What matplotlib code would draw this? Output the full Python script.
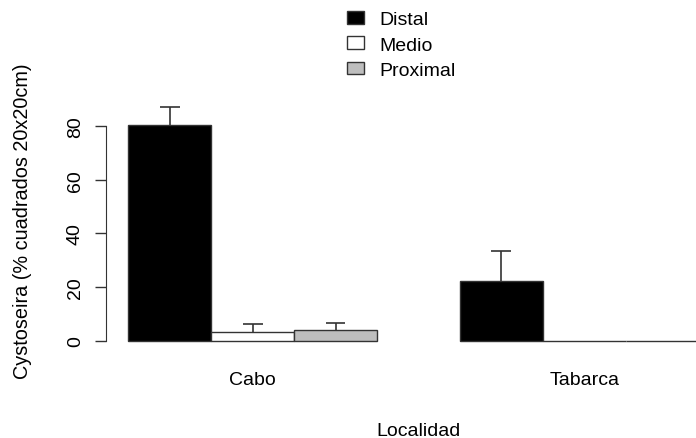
import numpy as np
import matplotlib
matplotlib.use("Agg")
import matplotlib.pyplot as plt
from matplotlib.patches import Patch

plt.rcParams['font.family'] = ['Liberation Sans', 'DejaVu Sans']

# datos
localidades = ["Cabo", "Tabarca"]
niveles = ["Distal", "Medio", "Proximal"]
colores = ["black", "white", "#bebebe"]
medias = {"Distal": [80.5, 22.2], "Medio": [3.5, 0.0], "Proximal": [4.0, 0.0]}
errores = {"Distal": [6.6, 11.4], "Medio": [2.8, 0.0], "Proximal": [2.8, 0.0]}

fig = plt.figure(figsize=(6.96, 4.39), dpi=100)
ax = fig.add_axes([106/696, 0.199, 1 - 106/696, 0.573])

# barras juntas dentro de cada grupo, un hueco de una barra entre grupos
paso = len(niveles) + 1
cap = 0.12
for j, (niv, col) in enumerate(zip(niveles, colores)):
    x = np.arange(len(localidades)) * paso + j
    m = np.array(medias[niv])
    e = np.array(errores[niv])
    ax.bar(x, m, width=1.0, color=col, edgecolor="#333333", linewidth=1.0, zorder=2)
    ok = e > 0
    # solo la mitad superior del error, como arrows() en R
    ax.vlines(x[ok], m[ok], m[ok] + e[ok], color="#333333", lw=1.2, zorder=3)
    ax.hlines(m[ok] + e[ok], x[ok] - cap, x[ok] + cap, color="#333333", lw=1.2, zorder=3)

ax.set_xlim(-0.769, 6.348)
ax.set_ylim(-3.6, 90)
centros = np.arange(len(localidades)) * paso + (len(niveles) - 1) / 2
ax.set_xticks(centros)
ax.set_xticklabels(localidades)
ax.tick_params(axis="x", length=0, pad=15, labelsize=14)
ax.set_yticks([0, 20, 40, 60, 80])
ax.tick_params(axis="y", length=8, width=1, pad=8, labelsize=14, color="#333333")
for t in ax.get_yticklabels():
    t.set_rotation(90)
    t.set_va("center")

for s in ["top", "right", "bottom"]:
    ax.spines[s].set_visible(False)
ax.spines["left"].set_bounds(0, 80)
ax.spines["left"].set_color("#333333")

ax.set_xlabel("Localidad", fontsize=14)
ax.xaxis.set_label_coords(0.529, -0.282)
ax.set_ylabel("Cystoseira (% cuadrados 20x20cm)", fontsize=14.3)
ax.yaxis.set_label_coords(-0.125, 0.517)

handles = [Patch(facecolor=c, edgecolor="#333333", linewidth=1.0) for c in colores]
fig.legend(handles, niveles, loc="upper left", bbox_to_anchor=(347/696, 0.972),
           frameon=False, fontsize=14, borderpad=0, borderaxespad=0,
           handlelength=0.85, handleheight=0.6, handletextpad=0.8, labelspacing=0.42)

fig.savefig("out.png", dpi=100)
